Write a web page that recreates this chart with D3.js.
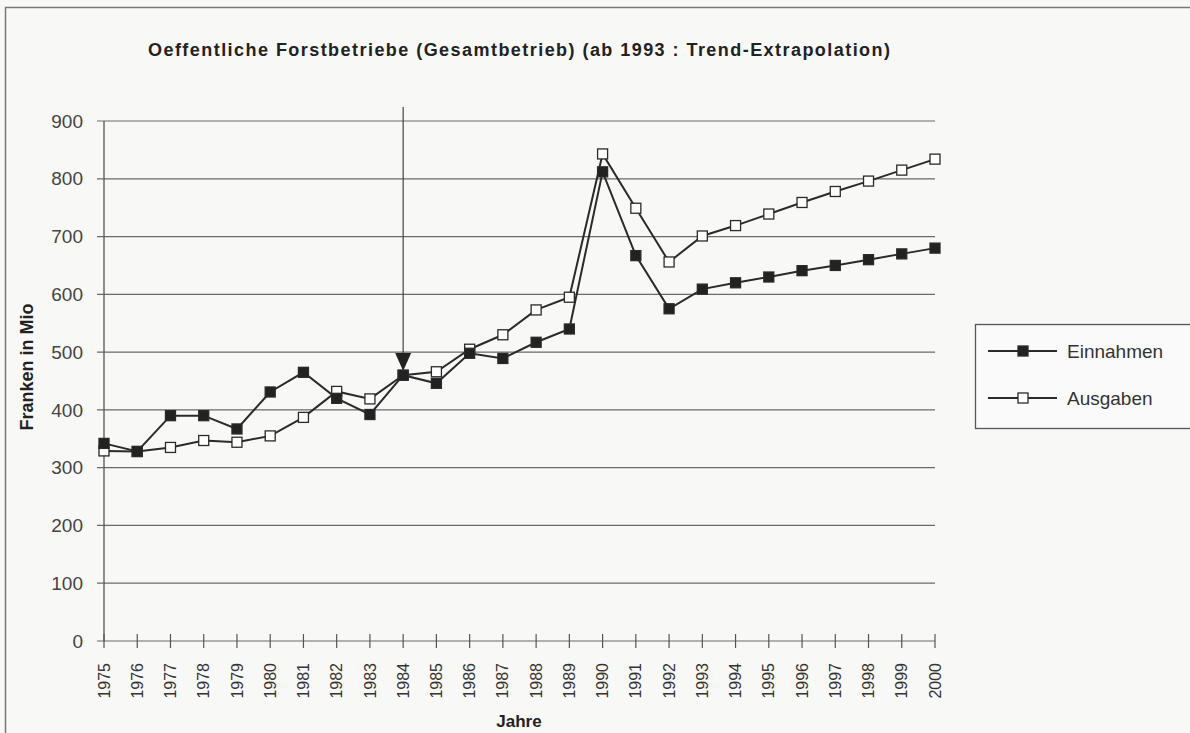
<!DOCTYPE html>
<html>
<head>
<meta charset="utf-8">
<script src="https://cdn.jsdelivr.net/npm/d3@7"></script>
<style>
  body { margin: 0; background: #f8f8f7; }
  svg { display: block; }
</style>
</head>
<body>
<div id="js-canvas"></div>
<script>
"use strict";

// Jahre 1975 .. 2000
const years = d3.range(1975, 2001);

// Einnahmen (Franken in Mio), ab 1993 Trend-Extrapolation
const einnahmen = [342, 328, 390, 390, 367, 431, 465, 420, 392, 460,
                   446, 498, 489, 517, 540, 812, 667, 575, 609, 620,
                   630, 641, 650, 660, 670, 680];

// Ausgaben (Franken in Mio)
const ausgaben = [329, 328, 335, 347, 344, 355, 387, 432, 419, 460,
                  466, 505, 530, 573, 595, 843, 749, 656, 701, 719,
                  739, 759, 778, 796, 815, 834];

const yTicks = d3.range(0, 901, 100);
const arrowYear = 1984;

const seriesNames = ["Einnahmen", "Ausgaben"];

const width = 1190;
const height = 733;
const font = "Liberation Sans, Arial, sans-serif";

function createCanvas(w, h) {
  return d3.select("#js-canvas")
    .append("svg")
      .attr("width", w)
      .attr("height", h);
}

const svg = createCanvas(width, height);

// scanned page frame
svg.append("path")
  .attr("d", "M5.5," + height + " V7.5 H" + width)
  .attr("fill", "none")
  .attr("stroke", "#777")
  .attr("stroke-width", 1.5);

const x = d3.scaleLinear().domain([1975, 2000]).range([104, 935]);
const y = d3.scaleLinear().domain([0, 900]).range([641, 121]);

// title
svg.append("text")
  .attr("x", 519)
  .attr("y", 56)
  .attr("text-anchor", "middle")
  .attr("font-family", font)
  .attr("font-weight", "bold")
  .attr("font-size", 18)
  .attr("textLength", 742)
  .attr("fill", "#222")
  .text("Oeffentliche Forstbetriebe (Gesamtbetrieb) (ab 1993 : Trend-Extrapolation)");

// horizontal grid lines
svg.append("g")
  .selectAll("line")
  .data(yTicks)
  .enter()
  .append("line")
    .attr("x1", x(1975) - 7)
    .attr("x2", x(2000))
    .attr("y1", function (d) { return y(d); })
    .attr("y2", function (d) { return y(d); })
    .attr("stroke", "#6a6a6a")
    .attr("stroke-width", 1.2);

// y axis line
svg.append("line")
  .attr("x1", x(1975)).attr("x2", x(1975))
  .attr("y1", y(900)).attr("y2", y(0))
  .attr("stroke", "#555")
  .attr("stroke-width", 1.3);

// y tick labels
svg.append("g")
  .selectAll("text")
  .data(yTicks)
  .enter()
  .append("text")
    .attr("x", 83)
    .attr("y", function (d) { return y(d); })
    .attr("dy", "0.35em")
    .attr("text-anchor", "end")
    .attr("font-family", font)
    .attr("font-size", 19)
    .attr("fill", "#444")
    .text(function (d) { return d; });

// x axis: ticks crossing the baseline
const xAxis = svg.append("g");
xAxis.selectAll("line")
  .data(years)
  .enter()
  .append("line")
    .attr("x1", function (d) { return x(d); })
    .attr("x2", function (d) { return x(d); })
    .attr("y1", y(0) - 7)
    .attr("y2", y(0) + 7)
    .attr("stroke", "#555")
    .attr("stroke-width", 1.2);

xAxis.selectAll("text")
  .data(years)
  .enter()
  .append("text")
    .attr("transform", function (d) {
      return "translate(" + x(d) + "," + 663 + ") rotate(-90)";
    })
    .attr("dy", "0.35em")
    .attr("text-anchor", "end")
    .attr("font-family", font)
    .attr("font-size", 16)
    .attr("fill", "#333")
    .text(function (d) { return d; });

// axis titles
svg.append("text")
  .attr("x", 519)
  .attr("y", 727)
  .attr("text-anchor", "middle")
  .attr("font-family", font)
  .attr("font-weight", "bold")
  .attr("font-size", 17)
  .attr("fill", "#222")
  .text("Jahre");

svg.append("text")
  .attr("transform", "translate(33,367) rotate(-90)")
  .attr("text-anchor", "middle")
  .attr("font-family", font)
  .attr("font-weight", "bold")
  .attr("font-size", 18)
  .attr("fill", "#222")
  .text("Franken in Mio");

// arrow marking 1984
const ax = x(arrowYear);
svg.append("line")
  .attr("x1", ax).attr("x2", ax)
  .attr("y1", 107).attr("y2", 360)
  .attr("stroke", "#444")
  .attr("stroke-width", 1.2);
svg.append("path")
  .attr("d", "M" + (ax - 8) + ",353 L" + (ax + 8) + ",353 L" + ax + ",371 Z")
  .attr("fill", "#222");

// series lines and markers
const line = d3.line()
  .x(function (d) { return x(d[0]); })
  .y(function (d) { return y(d[1]); });

function drawSeries(values, filled) {
  const pts = years.map(function (yr, i) { return [yr, values[i]]; });
  const g = svg.append("g");
  g.append("path")
    .datum(pts)
    .attr("d", line)
    .attr("fill", "none")
    .attr("stroke", "#2a2a2a")
    .attr("stroke-width", 2);
  g.selectAll("rect")
    .data(pts)
    .enter()
    .append("rect")
      .attr("x", function (d) { return x(d[0]) - 5; })
      .attr("y", function (d) { return y(d[1]) - 5; })
      .attr("width", 10)
      .attr("height", 10)
      .attr("fill", filled ? "#222" : "#fff")
      .attr("stroke", "#2a2a2a")
      .attr("stroke-width", 1.3);
}

drawSeries(ausgaben, false);
drawSeries(einnahmen, true);

// legend
const legend = svg.append("g");
legend.append("rect")
  .attr("x", 975.5).attr("y", 324.5)
  .attr("width", 230).attr("height", 104)
  .attr("fill", "#fafafa")
  .attr("stroke", "#555")
  .attr("stroke-width", 1.3);

seriesNames.forEach(function (name, i) {
  const ly = 351 + i * 47;
  legend.append("line")
    .attr("x1", 988).attr("x2", 1057)
    .attr("y1", ly).attr("y2", ly)
    .attr("stroke", "#2a2a2a")
    .attr("stroke-width", 2);
  legend.append("rect")
    .attr("x", 1018).attr("y", ly - 5)
    .attr("width", 10).attr("height", 10)
    .attr("fill", i === 0 ? "#222" : "#fff")
    .attr("stroke", "#2a2a2a")
    .attr("stroke-width", 1.3);
  legend.append("text")
    .attr("x", 1067)
    .attr("y", ly)
    .attr("dy", "0.35em")
    .attr("font-family", font)
    .attr("font-size", 19)
    .attr("fill", "#333")
    .text(name);
});
</script>
</body>
</html>
